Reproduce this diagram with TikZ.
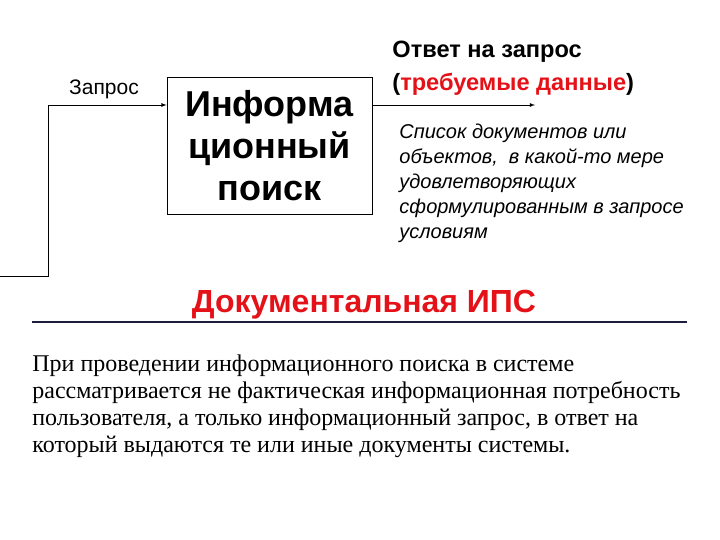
\documentclass[tikz,border=0pt]{standalone}
\usepackage{fontspec}
\setmainfont{Liberation Serif}
\setsansfont{Liberation Sans}
\usepackage{tikz}
\definecolor{ipsred}{RGB}{228,18,24}
\definecolor{rulecol}{RGB}{30,30,60}

\begin{document}
\begin{tikzpicture}[x=1pt,y=-1pt,line width=0.8pt]
	\useasboundingbox (0,0) rectangle (720,540);

	\node[shape=rectangle,draw=black,minimum width=205pt,minimum height=137pt,align=center,font=\sffamily\bfseries\fontsize{36}{42}\selectfont] (search) at (269.5, 145.5) {Информа\\ционный\\поиск};

	\node[anchor=base,inner sep=0pt,font=\sffamily\fontsize{21}{24}\selectfont] (query) at (104, 95) {Запрос};
	\node[anchor=north west,inner sep=0pt,align=left,font=\sffamily\bfseries\fontsize{23.6}{33}\selectfont] (answer) at (392, 41) {Ответ на запрос\\(\textcolor{ipsred}{требуемые данные})};
	\node[anchor=north west,inner sep=0pt,align=left,font=\sffamily\itshape\fontsize{20}{24.8}\selectfont] (list) at (399, 124) {Список документов или\\объектов,\ \ в какой-то мере\\удовлетворяющих\\сформулированным в запросе\\условиям};

	\node[anchor=base,inner sep=0pt,text=ipsred,font=\sffamily\bfseries\fontsize{32}{36}\selectfont] (title) at (364, 312) {Документальная ИПС};
	\coordinate (ruleL) at (32, 322);
	\coordinate (ruleR) at (687, 322);
	\draw[rulecol,line width=2.5pt] (ruleL) -- (ruleR);

	\node[anchor=north west,inner sep=0pt,align=left,font=\rmfamily\fontsize{24}{27.3}\selectfont] (body) at (32, 354) {При проведении информационного поиска в системе\\рассматривается не фактическая информационная потребность\\пользователя, а только информационный запрос, в ответ на\\который выдаются те или иные документы системы.};

	\coordinate (qstart) at (0, 276);
	\coordinate (qturn) at (48, 105);
	\coordinate (aend) at (535, 105);
	\draw[-latex] (qstart) -| (qturn) -- (search.west |- qturn);
	\draw[-latex] (search.east |- aend) -- (aend);
\end{tikzpicture}
\end{document}
